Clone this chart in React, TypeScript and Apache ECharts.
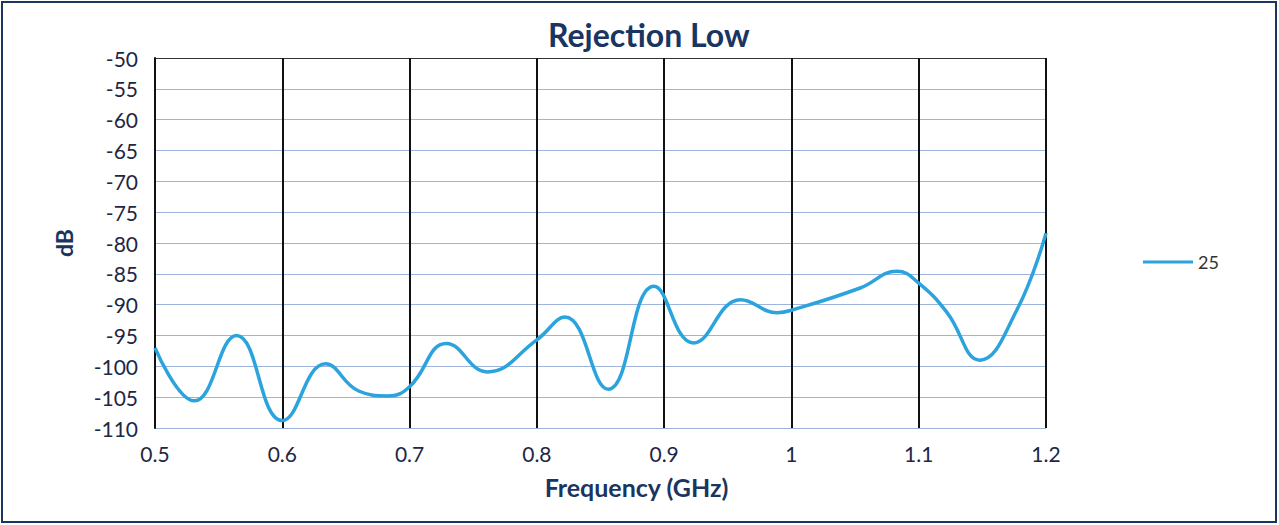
import React, { useEffect, useRef } from "react";
import * as echarts from "echarts";

const freqs = [0.5, 0.531, 0.564, 0.6, 0.634, 0.66, 0.683, 0.7, 0.729, 0.761, 0.8, 0.822, 0.856, 0.892, 0.923, 0.96, 0.989, 1.0, 1.054, 1.083, 1.1, 1.122, 1.148, 1.177, 1.2];
const values25 = [-97.0, -105.6, -95.0, -108.8, -99.6, -104.0, -104.8, -103.3, -96.3, -100.9, -95.7, -92.0, -103.7, -87.0, -96.2, -89.2, -91.3, -90.9, -87.3, -84.6, -86.5, -91.2, -99.0, -90.9, -78.4];
const seriesName = "25";
const titleText = "Rejection Low";
const xName = "Frequency (GHz)";
const yName = "dB";

export default function App() {
  const ref = useRef<HTMLDivElement>(null);
  useEffect(() => {
    if (!ref.current) return;
    const chart = echarts.init(ref.current, null, { renderer: "svg" });
    const navy = "#1a3560";
    const labelColor = "#1e2745";
    const font = "Lato";
    const hColors = Array.from({ length: 13 }, (_, i) => (i === 12 ? "#333333" : "#9fb4dc"));
    chart.setOption({
      animation: false,
      backgroundColor: "#ffffff",
      title: {
        text: titleText,
        left: 543,
        top: 13,
        textStyle: { fontFamily: font, fontWeight: "bold", fontSize: 32, color: navy },
      },
      legend: {
        left: 1138,
        top: 248,
        icon: "rect",
        itemWidth: 50,
        itemHeight: 3,
        itemGap: 4,
        textStyle: { fontFamily: font, fontSize: 18, color: "#333" },
        data: [seriesName],
      },
      grid: { left: 155, right: 233, top: 58, bottom: 97, containLabel: false },
      xAxis: {
        type: "value",
        min: 0.5,
        max: 1.2,
        interval: 0.1,
        name: xName,
        nameLocation: "middle",
        nameGap: 46,
        nameTextStyle: { fontFamily: font, fontWeight: "bold", fontSize: 25, color: navy, padding: [0, 0, 0, 72] },
        axisLine: { show: false },
        axisTick: { show: false },
        axisLabel: {
          fontFamily: font,
          fontSize: 21,
          color: labelColor,
          margin: 15,
          formatter: (v: number) => String(parseFloat(v.toFixed(1))),
        },
        splitLine: { show: true, lineStyle: { color: "#111", width: 2 } },
      },
      yAxis: {
        type: "value",
        min: -110,
        max: -50,
        interval: 5,
        name: yName,
        nameLocation: "middle",
        nameGap: 80,
        nameRotate: 90,
        nameTextStyle: { fontFamily: font, fontWeight: "bold", fontSize: 23, color: navy },
        axisLine: { show: true, lineStyle: { color: "#111", width: 2 } },
        axisTick: { show: false },
        axisLabel: { fontFamily: font, fontSize: 21, color: labelColor, margin: 17 },
        splitLine: { show: true, lineStyle: { color: hColors, width: 1 } },
      },
      graphic: [
        {
          type: "rect",
          shape: { x: 2, y: 2, width: 1274, height: 520 },
          style: { fill: "none", stroke: navy, lineWidth: 2 },
          silent: true,
        },
      ],
      series: [
        {
          name: seriesName,
          type: "line",
          data: freqs.map((f, i) => [f, values25[i]]),
          smooth: 0.45,
          symbol: "none",
          lineStyle: { color: "#2ba3dc", width: 3.5 },
          itemStyle: { color: "#2ba3dc" },
        },
      ],
    });
    return () => chart.dispose();
  }, []);
  return (
    <div
      ref={ref}
      style={{ position: "fixed", left: 0, top: 0, width: 1279, height: 525, background: "#fff" }}
    />
  );
}
